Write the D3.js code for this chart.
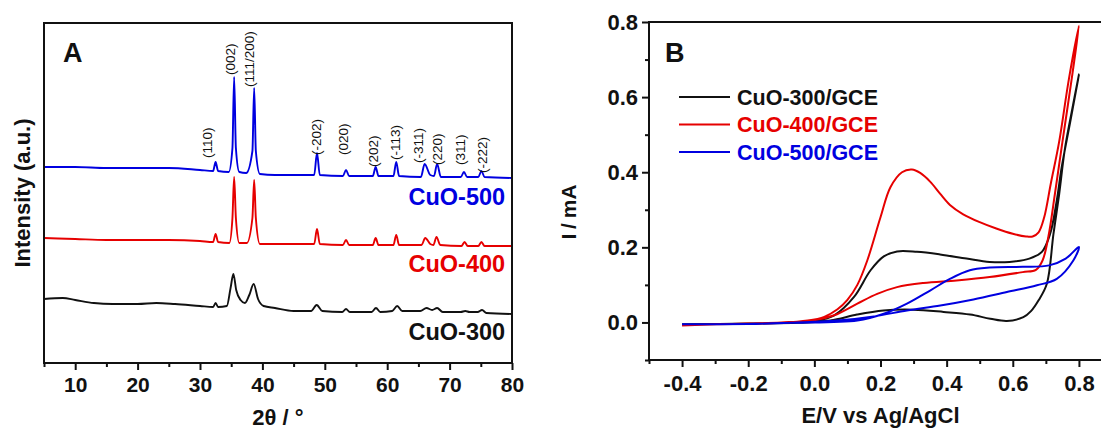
<!DOCTYPE html>
<html>
<head>
<meta charset="utf-8">
<script src="https://cdn.jsdelivr.net/npm/d3@7"></script>
<style>
  body { margin: 0; background: #fff; }
  svg { display: block; font-family: "Liberation Sans", Arial, sans-serif; }
  .tick text { font-weight: bold; fill: #111; }
  .tick line { stroke: #111; stroke-width: 2; }
</style>
</head>
<body>
<div id="chart"></div>
<script>
// ---------- panel A : XRD (2theta, intensity a.u.) ----------
const xrdSeries = ["CuO-300", "CuO-400", "CuO-500"];
const xrdColors = ["#111111", "#e60000", "#0000e0"];

const xrd300 = [[5,64],[8,65],[10,63],[13,60],[16,59],[20,59],[23,60],[26,59],[30,57],[32.1,56],[32.5,60],[32.9,56],
  [34.3,57],[34.9,75],[35.35,89],[35.8,73],[36.5,63],[37.2,60],[37.9,68],[38.6,79],[39.3,64],[40.2,57],[42,55],[45,52],
  [47.8,52],[48.7,58],[49.6,52],[52.8,51],[53.4,54],[54.0,51],[57.5,51],[58.2,55],[58.9,51],[60.8,52],[61.6,57],[62.4,52],
  [65.3,52],[66.3,55],[67.2,53],[68.0,55],[68.9,51],[71.8,51],[72.5,52],[73.2,51],[74.5,51],[75.2,53],[75.9,50],[80,49]];

const xrd400 = [[5,125],[10,124],[15,123],[20,123],[25,123],[30,122],[32.1,121],[32.5,129],[32.9,121],[34.7,120],
  [35.2,145],[35.47,186],[35.75,145],[36.3,120],[37.5,120],[38.4,145],[38.68,183],[38.95,145],[39.6,119],[45,119],
  [48.3,119],[48.75,134],[49.2,119],[52.9,118],[53.4,123],[53.9,118],[57.7,118],[58.15,125],[58.6,118],[61.0,118],
  [61.45,128],[61.9,118],[65.5,118],[66.1,125],[66.9,119],[67.4,118],[67.9,126],[68.5,118],[71.9,117],[72.4,121],
  [72.9,117],[74.6,117],[75.1,121],[75.6,117],[80,117]];

const xrd500 = [[5,196],[10,196],[15,195],[20,195],[25,195],[30,193],[32.1,192],[32.5,201],[32.9,192],
  [34.6,191],[35.2,215],[35.47,286],[35.75,215],[36.3,191],[37.4,190],[38.4,212],[38.68,275],[38.95,212],[39.6,189],
  [42,188],[45,188],[48.3,188],[48.75,210],[49.2,188],[52.9,187],[53.4,193],[53.9,187],[57.7,187],[58.15,196],
  [58.6,187],[61.0,187],[61.45,201],[61.9,187],[65.4,186],[66.0,199],[66.9,188],[67.5,187],[68.0,199],[68.6,186],
  [71.8,186],[72.3,191],[72.8,186],[74.6,186],[75.1,192],[75.6,186],[80,185]];

// label text, label 2theta, label foot (intensity)
const peakLabels = [["(110)",31.1,205],["(002)",34.8,288],["(111/200)",37.9,276],["(-202)",48.6,208],["(020)",52.9,208],
  ["(202)",57.7,196],["(-113)",61.3,203],["(-311)",64.9,200],["(220)",68.0,198],["(311)",71.7,198],["(-222)",75.3,190]];
// series name label: right end 2theta, baseline intensity
const xrdLabelPos = [[78.9,23],[78.9,91],[78.9,158]];

const xTicksA = [10,20,30,40,50,60,70,80];
const xMinorA = [5,15,25,35,45,55,65,75];

// ---------- panel B : CV (E vs Ag/AgCl, I in mA) ----------
const cvSeries = ["CuO-300/GCE", "CuO-400/GCE", "CuO-500/GCE"];

const cv300 = [[-0.4,-0.005],[-0.2,-0.003],[-0.07,-0.001],[0.0,0.004],[0.06,0.019],[0.12,0.068],[0.17,0.139],[0.21,0.176],
  [0.25,0.189],[0.31,0.188],[0.38,0.181],[0.46,0.17],[0.53,0.161],[0.59,0.161],[0.65,0.17],[0.688,0.188],[0.713,0.236],
  [0.733,0.325],[0.748,0.414],[0.775,0.54],[0.80,0.66],
  [0.778,0.56],[0.757,0.459],[0.74,0.34],[0.723,0.236],[0.703,0.103],[0.678,0.059],[0.655,0.03],[0.632,0.014],
  [0.582,0.004],[0.532,0.01],[0.471,0.021],[0.391,0.028],[0.30,0.034],[0.209,0.032],[0.129,0.021],[0.048,0.005],
  [-0.05,-0.001],[-0.2,-0.003],[-0.4,-0.005]];

const cv400 = [[-0.4,-0.008],[-0.3,-0.005],[-0.2,-0.003],[-0.1,-0.001],[-0.02,0.005],[0.03,0.015],[0.07,0.035],[0.10,0.06],
  [0.13,0.10],[0.16,0.165],[0.20,0.28],[0.23,0.36],[0.265,0.40],[0.295,0.407],[0.32,0.398],[0.35,0.375],[0.38,0.343],
  [0.41,0.313],[0.45,0.288],[0.50,0.267],[0.55,0.250],[0.60,0.236],[0.64,0.229],[0.66,0.229],[0.678,0.24],[0.695,0.28],
  [0.715,0.37],[0.74,0.48],[0.77,0.65],[0.80,0.79],
  [0.78,0.66],[0.75,0.48],[0.727,0.34],[0.708,0.23],[0.69,0.165],[0.67,0.14],[0.63,0.134],[0.53,0.121],[0.43,0.112],
  [0.33,0.105],[0.25,0.094],[0.19,0.076],[0.13,0.05],[0.06,0.019],[0.0,0.006],[-0.1,0.0],[-0.2,-0.003],[-0.3,-0.005],
  [-0.4,-0.008]];

const cv500 = [[-0.4,-0.005],[-0.2,-0.004],[-0.07,-0.001],[0.13,0.005],[0.21,0.023],[0.28,0.05],[0.35,0.085],[0.41,0.116],
  [0.47,0.139],[0.53,0.146],[0.63,0.148],[0.71,0.152],[0.76,0.17],[0.80,0.201],
  [0.783,0.165],[0.733,0.116],[0.673,0.099],[0.582,0.081],[0.481,0.061],[0.381,0.045],[0.28,0.032],[0.18,0.016],
  [0.07,0.005],[-0.07,-0.001],[-0.2,-0.004],[-0.4,-0.005]];

const xTicksB = [-0.4,-0.2,0.0,0.2,0.4,0.6,0.8];
const xMinorB = [-0.5,-0.3,-0.1,0.1,0.3,0.5,0.7];
const yTicksB = [0.0,0.2,0.4,0.6,0.8];
const yMinorB = [-0.1,0.1,0.3,0.5,0.7];

const width = 1101, height = 429;
const fmt1 = d => d3.format(".1f")(d).replace("\u2212", "-");

const svg = d3.select("#chart").append("svg")
  .attr("width", width)
  .attr("height", height);

// ----- panel A -----
const boxA = { left: 44, right: 512, top: 23, bottom: 363 };
const xA = d3.scaleLinear().domain([5, 80]).range([boxA.left, boxA.right]);
const yA = d3.scaleLinear().domain([0, 340]).range([boxA.bottom, boxA.top]);

const gA = svg.append("g");

const lineA = d3.line().x(d => xA(d[0])).y(d => yA(d[1])).curve(d3.curveMonotoneX);

[xrd300, xrd400, xrd500].forEach((data, i) => {
  gA.append("path")
    .attr("d", lineA(data))
    .attr("fill", "none")
    .attr("stroke", xrdColors[i])
    .attr("stroke-width", 1.9);
});

gA.selectAll(".peak-label")
  .data(peakLabels)
  .join("text")
  .attr("class", "peak-label")
  .attr("transform", d => `translate(${xA(d[1])}, ${yA(d[2])}) rotate(-90)`)
  .attr("dy", "0.35em")
  .style("font-size", "13.5px")
  .style("fill", "#111")
  .text(d => d[0]);

gA.selectAll(".series-label")
  .data(xrdLabelPos)
  .join("text")
  .attr("class", "series-label")
  .attr("x", d => xA(d[0]))
  .attr("y", d => yA(d[1]))
  .attr("text-anchor", "end")
  .style("font-size", "23.5px")
  .style("font-weight", "bold")
  .style("fill", (d, i) => xrdColors[i])
  .text((d, i) => xrdSeries[i]);

gA.append("rect")
  .attr("x", boxA.left).attr("y", boxA.top)
  .attr("width", boxA.right - boxA.left).attr("height", boxA.bottom - boxA.top)
  .attr("fill", "none").attr("stroke", "#111").attr("stroke-width", 2);

gA.append("g")
  .attr("transform", `translate(0, ${boxA.bottom})`)
  .call(d3.axisBottom(xA).tickValues(xMinorA).tickSize(4).tickFormat(""))
  .call(g => g.select(".domain").remove());

gA.append("g")
  .attr("transform", `translate(0, ${boxA.bottom})`)
  .call(d3.axisBottom(xA).tickValues(xTicksA).tickSize(7).tickPadding(7).tickFormat(d3.format("d")))
  .call(g => g.select(".domain").remove())
  .call(g => g.selectAll("text").style("font-size", "21px"));

gA.append("text")
  .attr("x", 63).attr("y", 62)
  .style("font-size", "27px").style("font-weight", "bold").style("fill", "#111")
  .text("A");

gA.append("text")
  .attr("x", (boxA.left + boxA.right) / 2).attr("y", 425)
  .attr("text-anchor", "middle")
  .style("font-size", "22px").style("font-weight", "bold").style("fill", "#111")
  .text("2θ / °");

gA.append("text")
  .attr("transform", `translate(30, ${(boxA.top + boxA.bottom) / 2}) rotate(-90)`)
  .attr("text-anchor", "middle")
  .style("font-size", "22px").style("font-weight", "bold").style("fill", "#111")
  .text("Intensity (a.u.)");

// ----- panel B -----
const boxB = { left: 649, right: 1112, top: 22, bottom: 360 };
const xB = d3.scaleLinear().domain([-0.5, 0.9]).range([boxB.left, boxB.right]);
const yB = d3.scaleLinear().domain([-0.1, 0.8]).range([boxB.bottom, boxB.top]);

const gB = svg.append("g");

const lineB = d3.line().x(d => xB(d[0])).y(d => yB(d[1])).curve(d3.curveCatmullRom.alpha(0.5));

[cv300, cv400, cv500].forEach((data, i) => {
  gB.append("path")
    .attr("d", lineB(data))
    .attr("fill", "none")
    .attr("stroke", xrdColors[i])
    .attr("stroke-width", 2);
});

gB.append("rect")
  .attr("x", boxB.left).attr("y", boxB.top)
  .attr("width", boxB.right - boxB.left).attr("height", boxB.bottom - boxB.top)
  .attr("fill", "none").attr("stroke", "#111").attr("stroke-width", 2);

gB.append("g")
  .attr("transform", `translate(0, ${boxB.bottom})`)
  .call(d3.axisBottom(xB).tickValues(xMinorB).tickSize(4).tickFormat(""))
  .call(g => g.select(".domain").remove());

gB.append("g")
  .attr("transform", `translate(0, ${boxB.bottom})`)
  .call(d3.axisBottom(xB).tickValues(xTicksB).tickSize(7).tickPadding(8).tickFormat(fmt1))
  .call(g => g.select(".domain").remove())
  .call(g => g.selectAll("text").style("font-size", "22px"));

gB.append("g")
  .attr("transform", `translate(${boxB.left}, 0)`)
  .call(d3.axisLeft(yB).tickValues(yMinorB).tickSize(4).tickFormat(""))
  .call(g => g.select(".domain").remove());

gB.append("g")
  .attr("transform", `translate(${boxB.left}, 0)`)
  .call(d3.axisLeft(yB).tickValues(yTicksB).tickSize(7).tickPadding(4).tickFormat(fmt1))
  .call(g => g.select(".domain").remove())
  .call(g => g.selectAll("text").style("font-size", "22px"));

gB.append("text")
  .attr("x", 665).attr("y", 62)
  .style("font-size", "27px").style("font-weight", "bold").style("fill", "#111")
  .text("B");

gB.append("text")
  .attr("x", (boxB.left + boxB.right) / 2).attr("y", 423)
  .attr("text-anchor", "middle")
  .style("font-size", "22px").style("font-weight", "bold").style("fill", "#111")
  .text("E/V vs Ag/AgCl");

gB.append("text")
  .attr("transform", `translate(576, 212) rotate(-90)`)
  .attr("text-anchor", "middle")
  .style("font-size", "21px").style("font-weight", "bold").style("fill", "#111")
  .style("word-spacing", "-1px")
  .text("I / mA");

const legend = gB.selectAll(".legend")
  .data(cvSeries)
  .join("g")
  .attr("class", "legend")
  .attr("transform", (d, i) => `translate(679, ${97 + i * 27.5})`);

legend.append("line")
  .attr("x1", 0).attr("x2", 51)
  .attr("stroke", (d, i) => xrdColors[i])
  .attr("stroke-width", 2);

legend.append("text")
  .attr("x", 58).attr("y", 7.5)
  .style("font-size", "21.5px").style("font-weight", "bold")
  .style("fill", (d, i) => xrdColors[i])
  .text(d => d);
</script>
</body>
</html>
